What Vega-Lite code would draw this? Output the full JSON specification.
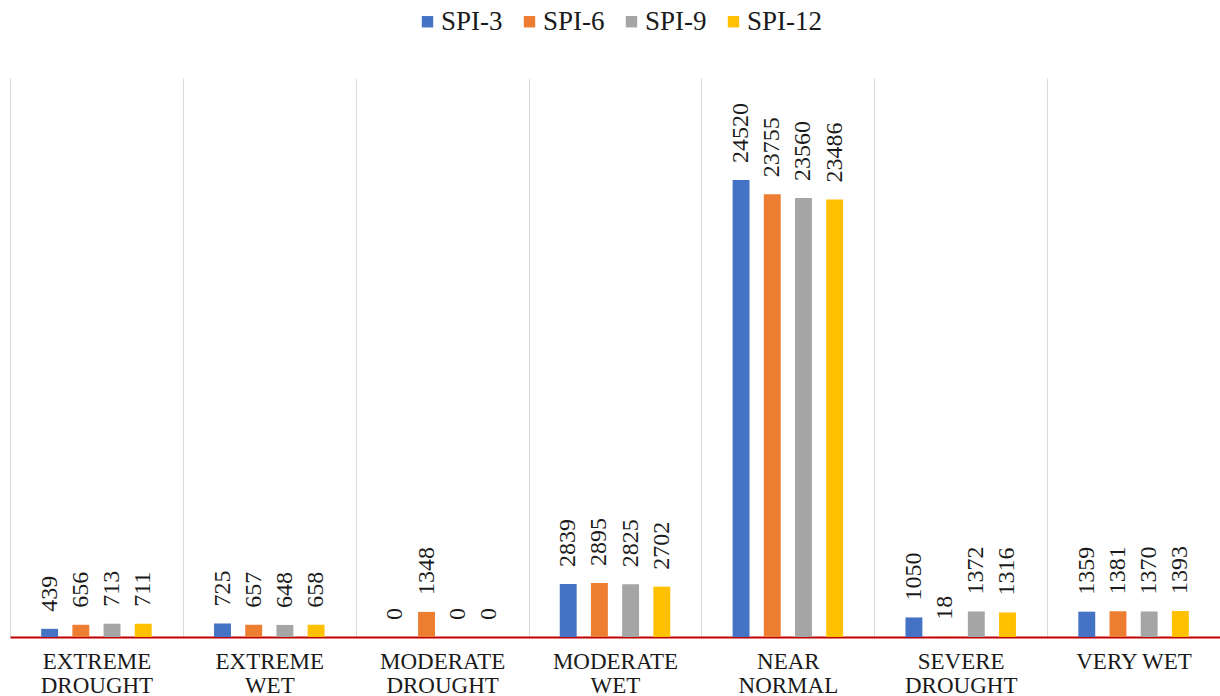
{
  "$schema": "https://vega.github.io/schema/vega-lite/v6.json",
  "width": 1210,
  "height": 559,
  "autosize": {"type": "none"},
  "padding": {"left": 10, "top": 78, "right": 0, "bottom": 59},
  "background": "white",
  "config": {"view": {"stroke": null}, "font": "Liberation Serif, Times New Roman, serif"},
  "data": {
    "values": [
      {"category": "EXTREME DROUGHT", "index": "SPI-3", "count": 439},
      {"category": "EXTREME DROUGHT", "index": "SPI-6", "count": 656},
      {"category": "EXTREME DROUGHT", "index": "SPI-9", "count": 713},
      {"category": "EXTREME DROUGHT", "index": "SPI-12", "count": 711},
      {"category": "EXTREME WET", "index": "SPI-3", "count": 725},
      {"category": "EXTREME WET", "index": "SPI-6", "count": 657},
      {"category": "EXTREME WET", "index": "SPI-9", "count": 648},
      {"category": "EXTREME WET", "index": "SPI-12", "count": 658},
      {"category": "MODERATE DROUGHT", "index": "SPI-3", "count": 0},
      {"category": "MODERATE DROUGHT", "index": "SPI-6", "count": 1348},
      {"category": "MODERATE DROUGHT", "index": "SPI-9", "count": 0},
      {"category": "MODERATE DROUGHT", "index": "SPI-12", "count": 0},
      {"category": "MODERATE WET", "index": "SPI-3", "count": 2839},
      {"category": "MODERATE WET", "index": "SPI-6", "count": 2895},
      {"category": "MODERATE WET", "index": "SPI-9", "count": 2825},
      {"category": "MODERATE WET", "index": "SPI-12", "count": 2702},
      {"category": "NEAR NORMAL", "index": "SPI-3", "count": 24520},
      {"category": "NEAR NORMAL", "index": "SPI-6", "count": 23755},
      {"category": "NEAR NORMAL", "index": "SPI-9", "count": 23560},
      {"category": "NEAR NORMAL", "index": "SPI-12", "count": 23486},
      {"category": "SEVERE DROUGHT", "index": "SPI-3", "count": 1050},
      {"category": "SEVERE DROUGHT", "index": "SPI-6", "count": 18},
      {"category": "SEVERE DROUGHT", "index": "SPI-9", "count": 1372},
      {"category": "SEVERE DROUGHT", "index": "SPI-12", "count": 1316},
      {"category": "VERY WET", "index": "SPI-3", "count": 1359},
      {"category": "VERY WET", "index": "SPI-6", "count": 1381},
      {"category": "VERY WET", "index": "SPI-9", "count": 1370},
      {"category": "VERY WET", "index": "SPI-12", "count": 1393}
    ]
  },
  "encoding": {
    "x": {
      "field": "category",
      "type": "nominal",
      "sort": null,
      "scale": {"paddingInner": 0, "paddingOuter": 0},
      "axis": {
        "title": null,
        "orient": "bottom",
        "ticks": false,
        "grid": true,
        "tickBand": "extent",
        "gridColor": "#d9d9d9",
        "gridWidth": 1,
        "domainColor": "#c00000",
        "domainWidth": 2,
        "labelFont": "Liberation Serif, Times New Roman, serif",
        "labelFontSize": 23,
        "labelColor": "#1a1a1a",
        "labelPadding": 13,
        "labelLineHeight": 24,
        "labelAngle": 0,
        "labelExpr": "datum.label === 'VERY WET' ? datum.label : split(datum.label, ' ')"
      }
    },
    "xOffset": {
      "field": "index",
      "type": "nominal",
      "sort": ["SPI-3", "SPI-6", "SPI-9", "SPI-12"],
      "scale": {"paddingInner": 0.458, "paddingOuter": 1.16}
    },
    "y": {
      "field": "count",
      "type": "quantitative",
      "scale": {"domain": [0, 30000]},
      "axis": null
    }
  },
  "layer": [
    {
      "mark": {"type": "bar"},
      "encoding": {
        "color": {
          "field": "index",
          "type": "nominal",
          "scale": {
            "domain": ["SPI-3", "SPI-6", "SPI-9", "SPI-12"],
            "range": ["#4472C4", "#ED7D31", "#A5A5A5", "#FFC000"]
          },
          "legend": {
            "orient": "none",
            "legendX": 404,
            "legendY": -70,
            "direction": "horizontal",
            "title": null,
            "padding": 0,
            "symbolType": "square",
            "symbolSize": 130,
            "symbolStrokeWidth": 0,
            "labelFont": "Liberation Serif, Times New Roman, serif",
            "labelFontSize": 27,
            "labelColor": "#1a1a1a",
            "labelOffset": 0,
            "columnPadding": 13
          }
        }
      }
    },
    {
      "mark": {
        "type": "text",
        "angle": 270,
        "align": "left",
        "baseline": "middle",
        "dx": 17,
        "fontSize": 24,
        "font": "Liberation Serif, Times New Roman, serif",
        "color": "#1a1a1a"
      },
      "encoding": {
        "text": {"field": "count", "type": "quantitative", "format": "d"}
      }
    }
  ]
}
